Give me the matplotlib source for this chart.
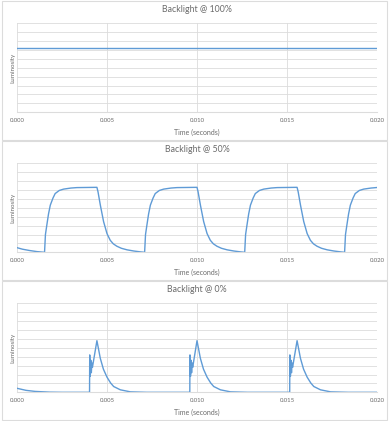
import matplotlib
matplotlib.use("Agg")
import matplotlib.pyplot as plt
from matplotlib.patches import Rectangle

# data (time in ms, luminosity in grid units 0..10)
titles = ["Backlight @ 100%", "Backlight @ 50%", "Backlight @ 0%"]
x_ticks = [0.0, 0.005, 0.010, 0.015, 0.020]

t_full = [0.0, 20.0]
lum_full = [7.2, 7.2]

t_half = [0.0, 0.3, 0.7, 1.1, 1.53,
          1.58, 1.66, 1.75, 1.85, 2.0, 2.12, 2.35, 2.59, 3.0, 3.33, 4.44,
          4.5, 4.63, 4.81, 5.0, 5.18, 5.35, 5.55, 5.8, 6.11, 6.5, 6.85, 7.09,
          7.14, 7.22, 7.31, 7.41, 7.56, 7.68, 7.91, 8.15, 8.56, 8.89, 10.0,
          10.06, 10.19, 10.37, 10.56, 10.74, 10.91, 11.11, 11.36, 11.67, 12.06, 12.41, 12.65,
          12.70, 12.78, 12.87, 12.97, 13.12, 13.24, 13.47, 13.71, 14.12, 14.45, 15.56,
          15.62, 15.75, 15.93, 16.12, 16.30, 16.47, 16.67, 16.92, 17.23, 17.62, 17.97, 18.2,
          18.25, 18.33, 18.42, 18.52, 18.67, 18.79, 19.02, 19.26, 19.67, 20.0]
lum_half = [0.52, 0.35, 0.2, 0.08, 0.0,
            2.0, 3.1, 4.3, 5.3, 6.1, 6.6, 6.95, 7.1, 7.22, 7.27, 7.3,
            6.8, 5.3, 3.45, 2.1, 1.35, 0.95, 0.68, 0.45, 0.28, 0.14, 0.05, 0.0,
            2.0, 3.1, 4.3, 5.3, 6.1, 6.6, 6.95, 7.1, 7.22, 7.27, 7.3,
            6.8, 5.3, 3.45, 2.1, 1.35, 0.95, 0.68, 0.45, 0.28, 0.14, 0.05, 0.0,
            2.0, 3.1, 4.3, 5.3, 6.1, 6.6, 6.95, 7.1, 7.22, 7.27, 7.3,
            6.8, 5.3, 3.45, 2.1, 1.35, 0.95, 0.68, 0.45, 0.28, 0.14, 0.05, 0.0,
            2.0, 3.1, 4.3, 5.3, 6.1, 6.6, 6.95, 7.1, 7.22, 7.28]

t_zero = [0.0, 0.5, 1.0, 1.8, 2.5, 4.03,
          4.04, 4.07, 4.10, 4.13, 4.16, 4.19, 4.44,
          4.63, 4.8, 5.0, 5.2, 5.37, 5.74, 6.3, 7.2, 9.6,
          9.61, 9.64, 9.67, 9.70, 9.73, 9.76, 10.0,
          10.19, 10.36, 10.56, 10.76, 10.93, 11.3, 11.86, 12.8, 15.15,
          15.16, 15.19, 15.22, 15.25, 15.28, 15.31, 15.56,
          15.75, 15.92, 16.12, 16.32, 16.49, 16.86, 17.42, 18.4, 20.0]
lum_zero = [0.45, 0.22, 0.1, 0.02, 0.0, 0.0,
            4.2, 1.8, 3.6, 2.2, 3.3, 2.8, 5.8,
            3.8, 2.6, 1.7, 1.05, 0.65, 0.28, 0.05, 0.0, 0.0,
            4.2, 1.8, 3.6, 2.2, 3.3, 2.8, 5.8,
            3.8, 2.6, 1.7, 1.05, 0.65, 0.28, 0.05, 0.0, 0.0,
            4.2, 1.8, 3.6, 2.2, 3.3, 2.8, 5.8,
            3.8, 2.6, 1.7, 1.05, 0.65, 0.28, 0.05, 0.0, 0.0]

series = [(t_full, lum_full), (t_half, lum_half), (t_zero, lum_zero)]

LINE = "#5f9bd6"
GRID = "#dcdcdc"
TEXT = "#6b6b6b"

plt.rcParams['font.family'] = ['Lato', 'DejaVu Sans']

fig = plt.figure(figsize=(3.9, 4.21), dpi=100)
H = 421.0
W = 390.0

for i, (title, (t, lum)) in enumerate(zip(titles, series)):
    top = 23.3 + i * 140.0
    bot = 112.3 + i * 140.0
    ax = fig.add_axes([17 / W, 1 - bot / H, 360 / W, (bot - top) / H])

    # panel frame
    fig.patches.append(Rectangle(((1.5) / W, 1 - (140.0 * (i + 1)) / H),
                                 385 / W, 139 / H, transform=fig.transFigure,
                                 facecolor="none", edgecolor=GRID, lw=0.8))

    ax.plot([v / 1000.0 for v in t], lum, color=LINE, lw=1.0)
    ax.set_xlim(0, 0.02)
    ax.set_ylim(0, 10)
    ax.set_xticks(x_ticks)
    ax.set_xticklabels([f"{v:.3f}" for v in x_ticks])
    ax.set_yticks(range(0, 11))
    ax.set_yticklabels([])
    ax.grid(True, color=GRID, lw=0.6)
    ax.set_axisbelow(True)
    for s in ["top", "right", "left"]:
        ax.spines[s].set_visible(False)
    ax.spines["bottom"].set_color(GRID)
    ax.spines["bottom"].set_linewidth(0.8)
    ax.tick_params(length=0, labelsize=4.3, labelcolor=TEXT, pad=4)
    ax.set_xlabel("Time (seconds)", fontsize=5, color=TEXT, labelpad=4)
    ax.set_ylabel("Luminosity", fontsize=4.5, color=TEXT, labelpad=-3)
    ax.set_title(title, fontsize=6.3, color=TEXT, pad=8)

fig.savefig("out.png", dpi=100, facecolor="white")
